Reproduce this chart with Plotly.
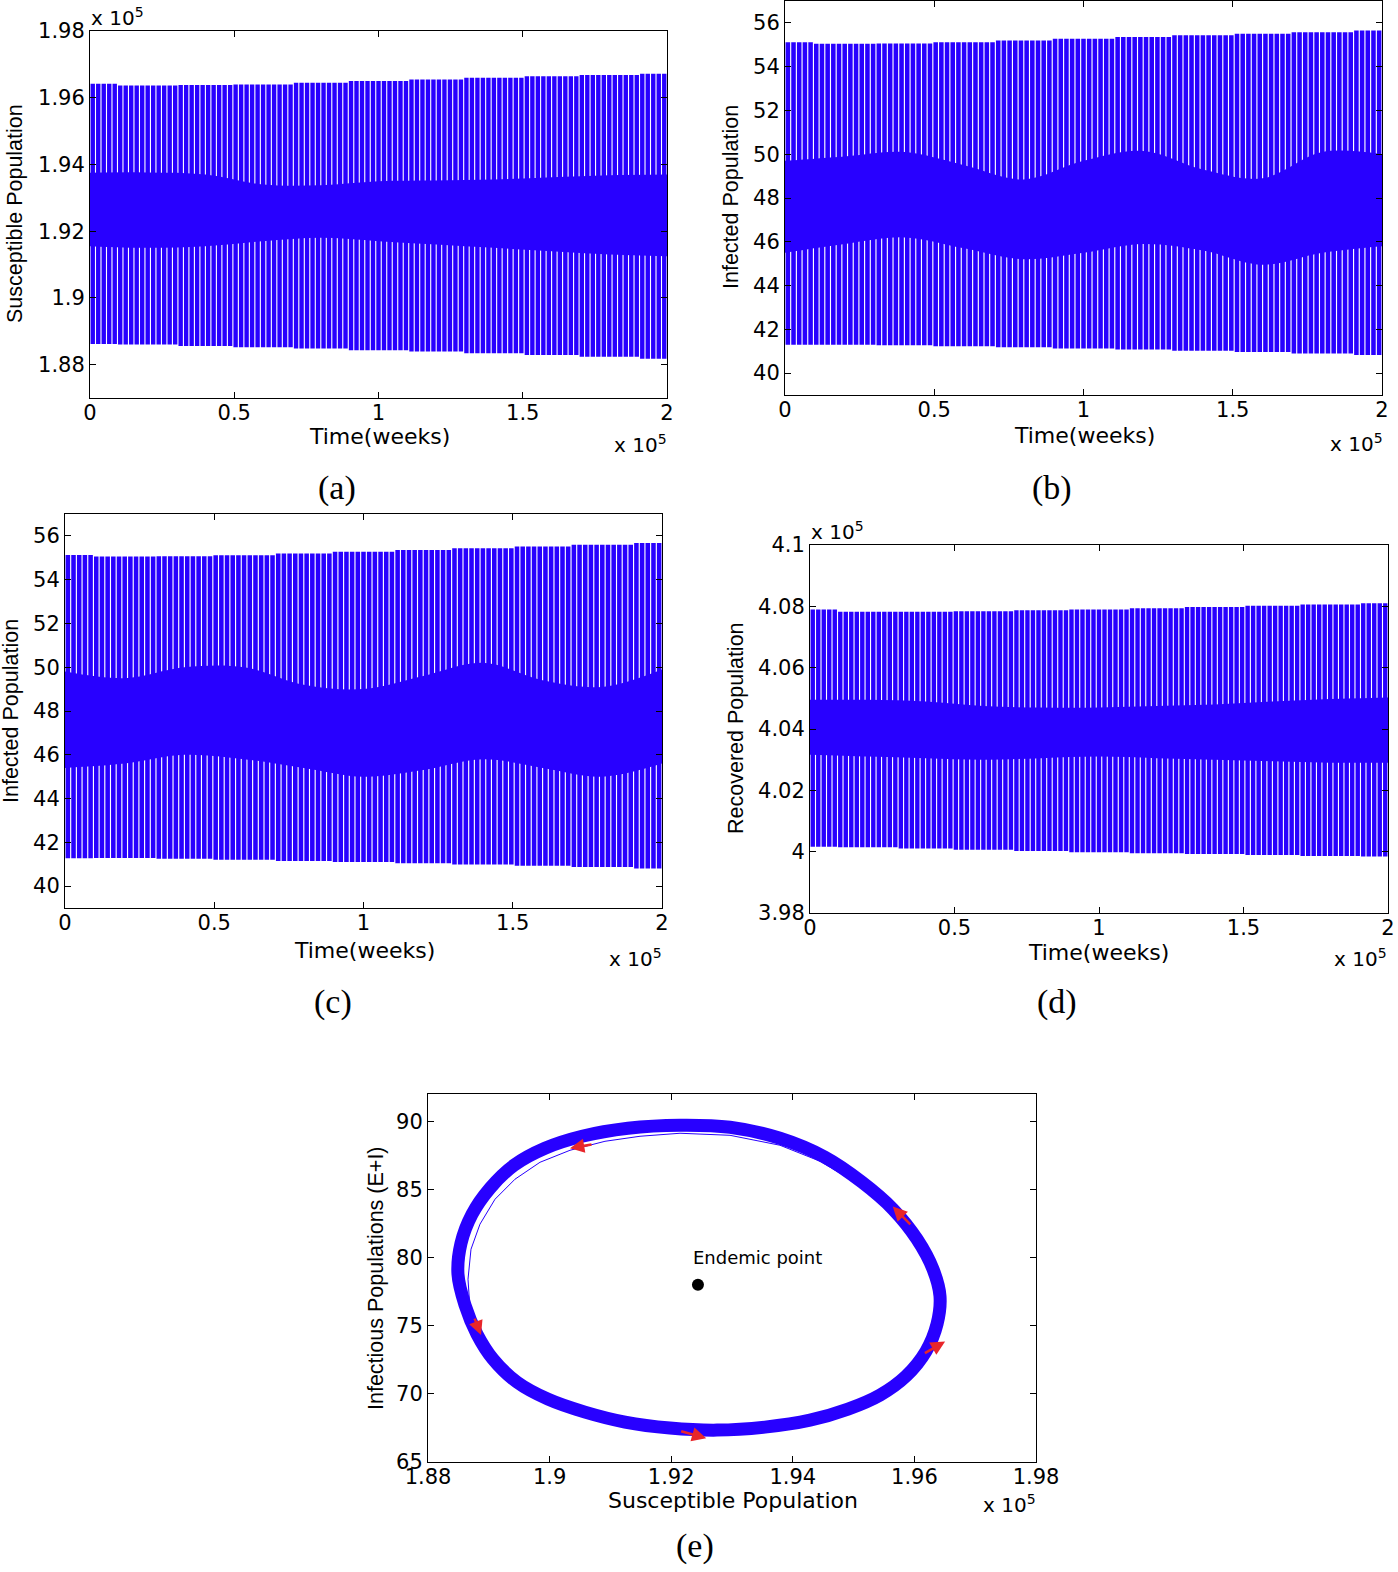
import numpy as np
import plotly.graph_objects as go

W, H = 1398, 1572
BLUE = "#2800ff"
RED = "#e8262a"

# ---------------- data ----------------
T_END = 200000           # weeks
N_CYCLES = 105           # oscillation cycles visible over the run
knot_t = [0, 20000, 40000, 60000, 80000, 100000, 120000, 140000, 160000, 180000, 200000]

# (a) Susceptible population
peaks_a = [196420, 196370, 196380, 196400, 196450, 196500, 196550, 196600, 196640, 196680, 196720]
troughs_a = [188620, 188600, 188560, 188520, 188480, 188430, 188390, 188340, 188290, 188240, 188180]
core_hi_a = [193750, 193760, 193700, 193400, 193380, 193500, 193520, 193550, 193620, 193680, 193700]
core_lo_a = [191550, 191500, 191550, 191700, 191800, 191700, 191600, 191500, 191400, 191300, 191250]

# (b) Infected population
peaks_b = [55.12, 55.05, 55.06, 55.12, 55.20, 55.27, 55.35, 55.43, 55.50, 55.57, 55.65]
troughs_b = [41.30, 41.30, 41.27, 41.23, 41.18, 41.13, 41.08, 41.02, 40.96, 40.90, 40.83]
core_hi_b = [49.7, 49.9, 50.1, 49.5, 48.85, 49.7, 50.15, 49.3, 48.9, 50.1, 50.0]
core_lo_b = [45.5, 45.9, 46.2, 45.7, 45.2, 45.5, 45.9, 45.6, 44.95, 45.5, 45.8]

# (c) Infected population
peaks_c = [55.13, 55.06, 55.07, 55.12, 55.20, 55.28, 55.36, 55.44, 55.52, 55.60, 55.68]
troughs_c = [41.27, 41.28, 41.25, 41.20, 41.15, 41.10, 41.05, 40.99, 40.93, 40.87, 40.81]
core_hi_c = [49.8, 49.5, 50.0, 50.0, 49.2, 49.0, 49.6, 50.2, 49.4, 49.1, 49.9]
core_lo_c = [45.4, 45.6, 46.0, 45.8, 45.4, 45.0, 45.3, 45.8, 45.4, 45.0, 45.6]

# (d) Recovered population
peaks_d = [407900, 407820, 407820, 407840, 407870, 407900, 407940, 407980, 408020, 408060, 408100]
troughs_d = [400160, 400140, 400100, 400060, 400020, 399980, 399950, 399920, 399890, 399860, 399840]
core_hi_d = [404950, 404950, 404900, 404750, 404700, 404700, 404750, 404800, 404900, 404980, 405030]
core_lo_d = [403160, 403100, 403050, 403000, 403050, 403100, 403050, 403000, 402950, 402900, 402900]

# (e) phase portrait: centre line of the limit-cycle band
cycle_S = [192145, 192967, 193789, 194529, 195138, 195648, 196043, 196306, 196421, 196372,
           196191, 195862, 195434, 194908, 194283, 193543, 192753, 191980, 191240, 190582,
           189974, 189464, 189069, 188806, 188609, 188493, 188543, 188724, 189020, 189414,
           189924, 190533, 191289, 192145]
cycle_EI = [89.71, 89.56, 88.75, 87.36, 85.53, 83.55, 81.35, 79.15, 77.17, 75.11,
            73.13, 71.30, 69.91, 68.88, 68.07, 67.56, 67.34, 67.49, 67.93, 68.66,
            69.61, 70.86, 72.55, 74.38, 76.51, 78.78, 81.05, 83.18, 85.09, 86.77,
            88.02, 88.90, 89.49, 89.71]
# thin transient trajectory just inside the band (left and top)
inner_S = [188822, 188691, 188658, 188707, 188855, 189102, 189431, 189842, 190335, 190911,
           191487, 192145, 192967, 193789, 194447, 194941]
inner_EI = [74.38, 76.21, 78.41, 80.61, 82.45, 84.28, 85.75, 86.99, 87.87, 88.53,
            88.90, 89.12, 88.97, 88.24, 87.07, 85.75]
endemic_S, endemic_EI = 192440, 78.0
# direction arrows: (tail S, tail E+I, head S, head E+I)
arrows_e = [
    (190714, 88.31, 190336, 88.02),
    (195957, 82.32, 195644, 83.75),
    (196148, 72.92, 196505, 73.85),
    (192140, 67.29, 192576, 66.74),
    (188757, 75.63, 188872, 74.31),
]

time_ticks = [0, 50000, 100000, 150000, 200000]
time_labels = ["0", "0.5", "1", "1.5", "2"]
ticks_a = [188000, 190000, 192000, 194000, 196000, 198000]
labels_a = ["1.88", "1.9", "1.92", "1.94", "1.96", "1.98"]
ticks_bc = [40, 42, 44, 46, 48, 50, 52, 54, 56]
labels_bc = [str(v) for v in ticks_bc]
ticks_d = [398000, 400000, 402000, 404000, 406000, 408000, 410000]
labels_d = ["3.98", "4", "4.02", "4.04", "4.06", "4.08", "4.1"]
ticks_ex = [188000, 190000, 192000, 194000, 196000, 198000]
labels_ex = ["1.88", "1.9", "1.92", "1.94", "1.96", "1.98"]
ticks_ey = [65, 70, 75, 80, 85, 90]
labels_ey = [str(v) for v in ticks_ey]

# ---------------- helpers ----------------
def px(x):
    return x / W


def py(y):
    return 1 - y / H


def dom_x(a, b):
    return [px(a), px(b)]


def dom_y(top, bottom):
    return [py(bottom), py(top)]


fig = go.Figure()

period = T_END / N_CYCLES
centers = (np.arange(N_CYCLES) + 0.5) * period
knot_idx = np.clip(np.rint(centers / (knot_t[1] - knot_t[0])).astype(int), 0, len(knot_t) - 1)


def add_series(peaks, troughs, core_hi, core_lo, xa, ya):
    top = np.asarray(peaks, dtype=float)[knot_idx]
    bot = np.asarray(troughs, dtype=float)[knot_idx]
    fig.add_trace(go.Bar(x=centers, y=top - bot, base=bot, width=0.8 * period,
                         marker=dict(color=BLUE, line=dict(width=0)),
                         xaxis=xa, yaxis=ya, showlegend=False, hoverinfo="skip"))
    fig.add_trace(go.Scatter(x=knot_t, y=core_lo, mode="lines",
                             line=dict(width=0, color=BLUE, shape="spline"),
                             xaxis=xa, yaxis=ya, showlegend=False, hoverinfo="skip"))
    fig.add_trace(go.Scatter(x=knot_t, y=core_hi, mode="lines", fill="tonexty",
                             fillcolor=BLUE,
                             line=dict(width=0, color=BLUE, shape="spline"),
                             xaxis=xa, yaxis=ya, showlegend=False, hoverinfo="skip"))


add_series(peaks_a, troughs_a, core_hi_a, core_lo_a, "x", "y")
add_series(peaks_b, troughs_b, core_hi_b, core_lo_b, "x2", "y2")
add_series(peaks_c, troughs_c, core_hi_c, core_lo_c, "x3", "y3")
add_series(peaks_d, troughs_d, core_hi_d, core_lo_d, "x4", "y4")

# phase portrait
fig.add_trace(go.Scatter(x=inner_S, y=inner_EI, mode="lines",
                         line=dict(color=BLUE, width=1),
                         xaxis="x5", yaxis="y5", showlegend=False, hoverinfo="skip"))
fig.add_trace(go.Scatter(x=cycle_S, y=cycle_EI, mode="lines",
                         line=dict(color=BLUE, width=13, shape="spline", smoothing=1.0),
                         xaxis="x5", yaxis="y5", showlegend=False, hoverinfo="skip"))
fig.add_trace(go.Scatter(x=[endemic_S], y=[endemic_EI], mode="markers",
                         marker=dict(color="black", size=12),
                         xaxis="x5", yaxis="y5", showlegend=False, hoverinfo="skip"))

TICKFONT = dict(family="DejaVu Sans", size=21, color="black")


def axis_common(**kw):
    d = dict(showgrid=False, zeroline=False, showline=True, linecolor="black", linewidth=1,
             mirror="ticks", ticks="inside", ticklen=6, tickwidth=1, tickcolor="black",
             tickfont=TICKFONT, tickmode="array", fixedrange=True, automargin=False)
    d.update(kw)
    return d


SO = -4
layout_axes = dict(
    xaxis=axis_common(domain=dom_x(90, 667), range=[0, T_END], tickvals=time_ticks,
                      ticktext=time_labels, anchor="y", ticklabelstandoff=SO),
    yaxis=axis_common(domain=dom_y(31, 398), range=[187000, 198000], tickvals=ticks_a,
                      ticktext=labels_a, anchor="x"),
    xaxis2=axis_common(domain=dom_x(785, 1382), range=[0, T_END], tickvals=time_ticks,
                       ticktext=time_labels, anchor="y2", ticklabelstandoff=SO),
    yaxis2=axis_common(domain=dom_y(1, 395), range=[39, 57], tickvals=ticks_bc,
                       ticktext=labels_bc, anchor="x2"),
    xaxis3=axis_common(domain=dom_x(65, 662), range=[0, T_END], tickvals=time_ticks,
                       ticktext=time_labels, anchor="y3", ticklabelstandoff=SO),
    yaxis3=axis_common(domain=dom_y(514, 908), range=[39, 57], tickvals=ticks_bc,
                       ticktext=labels_bc, anchor="x3"),
    xaxis4=axis_common(domain=dom_x(810, 1388), range=[0, T_END], tickvals=time_ticks,
                       ticktext=time_labels, anchor="y4", ticklabelstandoff=SO),
    yaxis4=axis_common(domain=dom_y(545, 913), range=[398000, 410000], tickvals=ticks_d,
                       ticktext=labels_d, anchor="x4"),
    xaxis5=axis_common(domain=dom_x(428, 1036), range=[188000, 198000], tickvals=ticks_ex,
                       ticktext=labels_ex, anchor="y5", ticklabelstandoff=SO),
    yaxis5=axis_common(domain=dom_y(1094, 1462), range=[65, 92], tickvals=ticks_ey,
                       ticktext=labels_ey, anchor="x5"),
)

ann = []
HFONT = dict(family="DejaVu Sans", size=22, color="black")
VFONT = dict(family="Liberation Sans", size=21.5, color="black")
MFONT = dict(family="DejaVu Sans", size=20, color="black")
CFONT = dict(family="Liberation Serif", size=34, color="black")


def text(t, x, y, font, xanchor="center", yanchor="middle", angle=0):
    ann.append(dict(text=t, x=px(x), y=py(y), xref="paper", yref="paper", showarrow=False,
                    xanchor=xanchor, yanchor=yanchor, textangle=angle, font=font))


mult = "x 10<sup>5</sup>"
# (a)
text("Susceptible Population", 15, 214, VFONT, angle=-90)
text("Time(weeks)", 379, 437, HFONT)
text(mult, 89, 17, MFONT, xanchor="left")
text(mult, 669, 444, MFONT, xanchor="right")
text("(a)", 337, 488, CFONT)
# (b)
text("Infected Population", 731, 197, VFONT, angle=-90)
text("Time(weeks)", 1084, 435, HFONT)
text(mult, 1385, 443, MFONT, xanchor="right")
text("(b)", 1052, 488, CFONT)
# (c)
text("Infected Population", 11, 711, VFONT, angle=-90)
text("Time(weeks)", 364, 950, HFONT)
text(mult, 664, 958, MFONT, xanchor="right")
text("(c)", 333, 1002, CFONT)
# (d)
text("Recovered Population", 736, 728, VFONT, angle=-90)
text("Time(weeks)", 1098, 952, HFONT)
text(mult, 809, 531, MFONT, xanchor="left")
text(mult, 1389, 958, MFONT, xanchor="right")
text("(d)", 1057, 1002, CFONT)
# (e)
text("Infectious Populations (E+I)", 376, 1278, VFONT, angle=-90)
text("Susceptible Population", 733, 1500, HFONT)
text(mult, 1038, 1504, MFONT, xanchor="right")
text("(e)", 695, 1546, CFONT)

ann.append(dict(text="Endemic point", x=193412, y=80.03, xref="x5", yref="y5",
                showarrow=False, font=dict(family="DejaVu Sans", size=18, color="black")))
for ts, te, hs, he in arrows_e:
    ann.append(dict(x=hs, y=he, ax=ts, ay=te, xref="x5", yref="y5", axref="x5", ayref="y5",
                    text="", showarrow=True, arrowhead=2, arrowsize=1.1, arrowwidth=2.6,
                    arrowcolor=RED, standoff=0, startstandoff=0))

fig.update_layout(
    template="none",
    width=W, height=H,
    margin=dict(l=0, r=0, t=0, b=0, autoexpand=False),
    paper_bgcolor="white", plot_bgcolor="white",
    barmode="overlay", showlegend=False,
    annotations=ann,
    **layout_axes,
)

fig.write_html(
    "out.html",
    config={"displayModeBar": False, "staticPlot": True},
    post_script="document.body.style.margin='0px';document.body.style.padding='0px';"
                "document.body.style.overflow='hidden';",
)
